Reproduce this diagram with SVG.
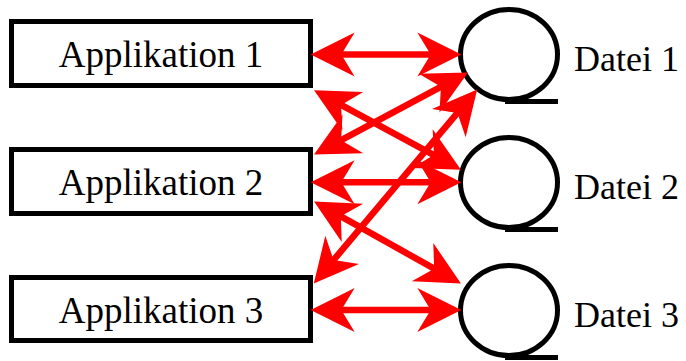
<svg xmlns="http://www.w3.org/2000/svg" width="686" height="361" viewBox="0 0 686 361">
<style>
.box{fill:#fff;stroke:#000;stroke-width:5}
.file{fill:none;stroke:#000;stroke-width:5}
.lbl{font-family:"Liberation Serif","Times New Roman",serif;font-size:37px;fill:#000}
.flbl{font-family:"Liberation Serif","Times New Roman",serif;font-size:36px;fill:#000}
.arr{stroke:#ff0000;stroke-width:6.5;fill:none;marker-start:url(#ah);marker-end:url(#ah)}
</style>
<defs>
<marker id="ah" markerUnits="userSpaceOnUse" markerWidth="60" markerHeight="60" viewBox="-30 -20 45 40" refX="0" refY="0" orient="auto-start-reverse" overflow="visible">
<path d="M10,0 L-23,-16.5 L-13,0 L-23,16.5 Z" fill="#ff0000"/>
</marker>
</defs>
<rect width="686" height="361" fill="#fff"/>
<g id="app1"><rect class="box" x="11.5" y="21.5" width="299" height="64"/><text class="lbl" x="161" y="67" text-anchor="middle">Applikation 1</text></g>
<g id="app2"><rect class="box" x="11.5" y="149.5" width="299" height="64"/><text class="lbl" x="161" y="195" text-anchor="middle">Applikation 2</text></g>
<g id="app3"><rect class="box" x="11.5" y="277.5" width="299" height="63"/><text class="lbl" x="161" y="323" text-anchor="middle">Applikation 3</text></g>
<g id="file1"><ellipse class="file" cx="509" cy="54.5" rx="48.5" ry="45"/><line class="file" x1="505" y1="101.5" x2="558" y2="101.5"/><text class="flbl" x="574" y="71">Datei 1</text></g>
<g id="file2"><ellipse class="file" cx="509" cy="182.5" rx="48.5" ry="45"/><line class="file" x1="505" y1="229.5" x2="558" y2="229.5"/><text class="flbl" x="574" y="199">Datei 2</text></g>
<g id="file3"><ellipse class="file" cx="509" cy="310.5" rx="48.5" ry="45"/><line class="file" x1="505" y1="357.5" x2="558" y2="357.5"/><text class="flbl" x="574" y="327">Datei 3</text></g>
<g id="connectors">
<line class="arr" x1="324" y1="54.5" x2="448" y2="54.5"/>
<line class="arr" x1="324" y1="182.3" x2="448" y2="182.3"/>
<line class="arr" x1="324" y1="310" x2="448" y2="310"/>
<line class="arr" x1="325.8" y1="96.7" x2="449.2" y2="163.3"/>
<line class="arr" x1="325.8" y1="148.3" x2="456.2" y2="78.7"/>
<line class="arr" x1="325.7" y1="207.9" x2="449.3" y2="277.1"/>
<line class="arr" x1="322.4" y1="273.3" x2="468.6" y2="99.7"/>
</g>
</svg>
